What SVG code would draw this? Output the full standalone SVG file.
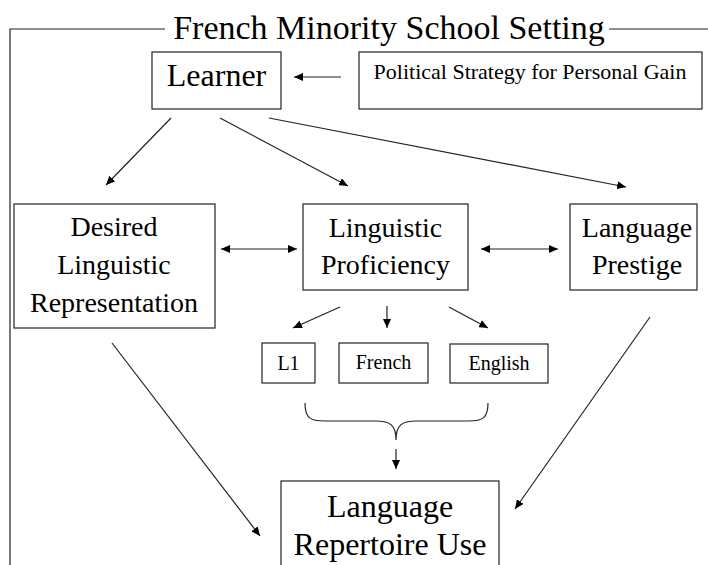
<svg xmlns="http://www.w3.org/2000/svg" width="708" height="565" viewBox="0 0 708 565">
<style>
.box{fill:#fff;stroke:#222;stroke-width:1.2}
.t{fill:#000;text-anchor:middle}
.c{stroke:#222;stroke-width:1.2;fill:none}
</style>
<defs>
<marker id="ah" markerUnits="userSpaceOnUse" markerWidth="10" markerHeight="8" refX="9" refY="4" orient="auto">
<path d="M0,0 L9,4 L0,8 z" fill="#000"/>
</marker>
<marker id="as" markerUnits="userSpaceOnUse" markerWidth="10" markerHeight="8" refX="1" refY="4" orient="auto">
<path d="M10,0 L1,4 L10,8 z" fill="#000"/>
</marker>
</defs>
<rect width="708" height="565" fill="#fff"/>
<g font-family="Liberation Serif, serif">
<g id="frame">
<path class="c" d="M10,565 L10,29 L165,29 M609,29 L708,29"/>
<text class="t" x="389" y="39" font-size="34">French Minority School Setting</text>
</g>
<g id="learner">
<rect class="box" x="152" y="52" width="129" height="57"/>
<text class="t" x="216.5" y="86" font-size="32">Learner</text>
</g>
<g id="political">
<rect class="box" x="359" y="52" width="343" height="57"/>
<text class="t" x="530" y="79" font-size="22">Political Strategy for Personal Gain</text>
</g>
<g id="desired">
<rect class="box" x="14" y="204" width="201" height="124"/>
<text class="t" x="114" y="236" font-size="28">Desired</text>
<text class="t" x="114" y="274" font-size="28">Linguistic</text>
<text class="t" x="114" y="312" font-size="28">Representation</text>
</g>
<g id="proficiency">
<rect class="box" x="303" y="204" width="165" height="86"/>
<text class="t" x="385.5" y="237" font-size="28">Linguistic</text>
<text class="t" x="385.5" y="274" font-size="28">Proficiency</text>
</g>
<g id="prestige">
<rect class="box" x="570" y="204" width="127" height="86"/>
<text class="t" x="637" y="237" font-size="28">Language</text>
<text class="t" x="637" y="274" font-size="28">Prestige</text>
</g>
<g id="l1">
<rect class="box" x="262" y="343" width="53" height="40"/>
<text class="t" x="288.5" y="370" font-size="20">L1</text>
</g>
<g id="french">
<rect class="box" x="339" y="343" width="89" height="40"/>
<text class="t" x="383.5" y="369" font-size="20">French</text>
</g>
<g id="english">
<rect class="box" x="450" y="344" width="98" height="39"/>
<text class="t" x="499" y="370" font-size="20">English</text>
</g>
<g id="repertoire">
<rect class="box" x="281" y="481" width="218" height="90"/>
<text class="t" x="390" y="517" font-size="32">Language</text>
<text class="t" x="390" y="555" font-size="32">Repertoire Use</text>
</g>
</g>
<g id="connectors">
<line class="c" x1="341" y1="77" x2="294" y2="77" marker-end="url(#ah)"/>
<line class="c" x1="171" y1="118" x2="106" y2="185" marker-end="url(#ah)"/>
<line class="c" x1="220" y1="118" x2="348" y2="186" marker-end="url(#ah)"/>
<line class="c" x1="269" y1="118" x2="626" y2="187" marker-end="url(#ah)"/>
<line class="c" x1="221" y1="249" x2="297" y2="249" marker-start="url(#as)" marker-end="url(#ah)"/>
<line class="c" x1="481" y1="249" x2="558" y2="249" marker-start="url(#as)" marker-end="url(#ah)"/>
<line class="c" x1="340" y1="307" x2="293" y2="328" marker-end="url(#ah)"/>
<line class="c" x1="387" y1="306" x2="387" y2="328" marker-end="url(#ah)"/>
<line class="c" x1="449" y1="307" x2="488" y2="328" marker-end="url(#ah)"/>
<line class="c" x1="112" y1="343" x2="260" y2="536" marker-end="url(#ah)"/>
<line class="c" x1="650" y1="317" x2="515" y2="509" marker-end="url(#ah)"/>
<path class="c" d="M305,403 C305,418 310,421 325,421 L376,421 C390,421 396,425 396,440 C396,425 402,421 416,421 L468,421 C483,421 488,418 488,403"/>
<line class="c" x1="396" y1="449" x2="396" y2="469" marker-end="url(#ah)"/>
</g>
</svg>
